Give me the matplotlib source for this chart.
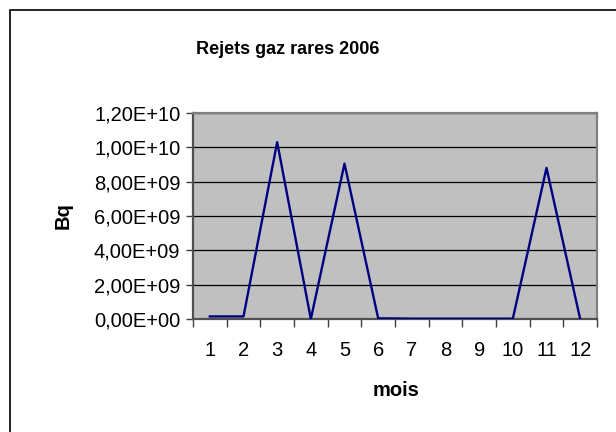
import matplotlib
matplotlib.use("Agg")
import matplotlib.pyplot as plt
from matplotlib.patches import Rectangle
from matplotlib.ticker import FuncFormatter, FixedLocator

plt.rcParams["font.family"] = ["Liberation Sans", "DejaVu Sans"]

MONTHS = [1, 2, 3, 4, 5, 6, 7, 8, 9, 10, 11, 12]
VALUES = [1.5e8, 1.5e8, 1.03e10, 0.0, 9.05e9, 4e7, 2e7, 2e7, 2e7, 2e7, 8.8e9, 0.0]
Y_TICKS = [0, 2e9, 4e9, 6e9, 8e9, 1e10, 1.2e10]


def sci_comma(v, _pos=None):
    return f"{v:.2E}".replace(".", ",")


fig = plt.figure(figsize=(6.16, 4.32), dpi=100)
fig.patch.set_facecolor("white")

# outer chart frame (runs past the right/bottom edge like the original)
fig.add_artist(Rectangle((10 / 616, -0.2), 1.2, 1.2 - 10 / 432,
                         transform=fig.transFigure, fill=False,
                         edgecolor="black", linewidth=1.2))

ax = fig.add_axes([193 / 616, 1 - 319 / 432, 404 / 616, 206 / 432])
ax.set_facecolor("#C0C0C0")

ax.plot(MONTHS, VALUES, color="#000080", linewidth=1.7, zorder=3)

ax.set_xlim(0.5, 12.5)
ax.set_ylim(0, 1.2e10)
ax.yaxis.set_major_locator(FixedLocator(Y_TICKS))
ax.yaxis.set_major_formatter(FuncFormatter(sci_comma))
ax.grid(axis="y", color="black", linewidth=0.9, zorder=1)
ax.set_axisbelow(True)

# ticks between categories, labels at category centres
ax.set_xticks([m + 0.5 for m in [0] + MONTHS])
ax.set_xticklabels([])
ax.set_xticks(MONTHS, minor=True)
ax.set_xticklabels([str(m) for m in MONTHS], minor=True)
ax.tick_params(axis="x", which="minor", length=0, pad=16, labelsize=14.5)
ax.tick_params(axis="x", which="major", direction="out", length=6, width=1, color="#404040")
ax.tick_params(axis="y", direction="out", length=5, width=1, color="#404040", labelsize=14.5, pad=4)

for side in ("top", "right"):
    ax.spines[side].set_color("#808080")
    ax.spines[side].set_linewidth(1.6)
for side in ("left", "bottom"):
    ax.spines[side].set_color("#505050")
    ax.spines[side].set_linewidth(1.6)

fig.text(288 / 616, 1 - 50 / 432, "Rejets gaz rares 2006", ha="center", va="center",
         fontsize=13, fontweight="bold")
fig.text(396 / 616, 1 - 391 / 432, "mois", ha="center", va="center",
         fontsize=14.5, fontweight="bold")
fig.text(63 / 616, 1 - 216 / 432, "Bq", ha="center", va="center", rotation=90,
         fontsize=14.5, fontweight="bold")

fig.savefig("out.png", dpi=100)
